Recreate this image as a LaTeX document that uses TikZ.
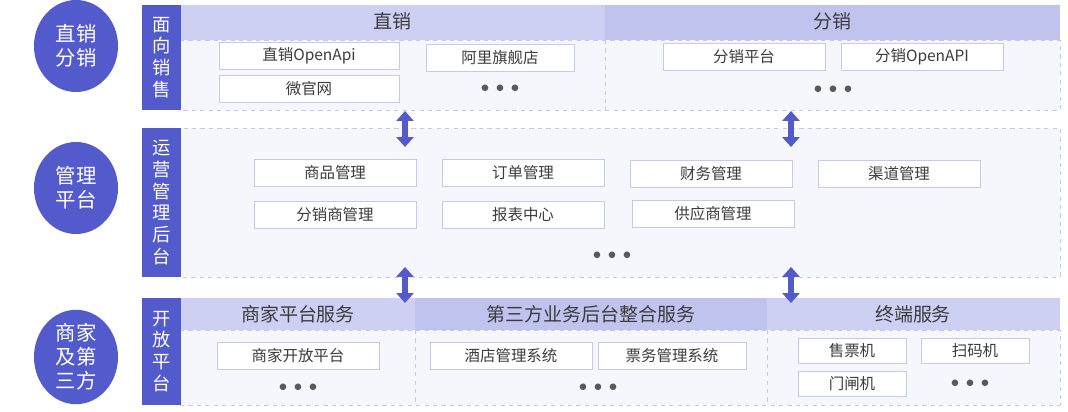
\documentclass[tikz,border=0pt]{standalone}
\usepackage{fontspec}
\newfontfamily\cjk{Noto Sans CJK SC}
\definecolor{deep}{HTML}{535ACB}
\definecolor{band}{HTML}{CDCFF3}
\definecolor{pane}{HTML}{F6F7FD}
\definecolor{edge}{HTML}{C6C9EE}
\definecolor{ink}{HTML}{3C3C3C}
\usetikzlibrary{arrows.meta,shapes.geometric}
\tikzset{
  layer/.style={ellipse, fill=deep, text=white, font=\cjk\fontsize{14.5}{17}\selectfont, align=center, minimum width=2.1cm, minimum height=2.3cm, inner sep=0pt},
  sidebar/.style={fill=deep, text=white, font=\cjk\fontsize{13}{15.5}\selectfont, align=center},
  itembox/.style={draw=edge, fill=white, text=ink, font=\cjk\fontsize{11}{12}\selectfont, minimum height=0.68cm, inner sep=0pt},
  headtext/.style={text=ink, font=\cjk\fontsize{13.5}{15}\selectfont},
  dots/.style={text=ink!85, font=\fontsize{13}{13}\selectfont},
  link/.style={deep, line width=4pt, {Triangle[length=7pt,width=12pt]}-{Triangle[length=7pt,width=12pt]}},
}
\begin{document}
\begin{tikzpicture}[x=0.025cm, y=-0.025cm]
  \useasboundingbox (0,0) rectangle (1068,412);
  % Layers
  \node[layer] (L1) at (76,46) {直销\\分销};
  \node[layer] (L2) at (76,188) {管理\\平台};
  \node[layer] (L3) at (76,357) {商家\\及第\\三方};

  % Row 1 panels
  \fill[pane] (180,5) rectangle (1060,110);
  \fill[band] (180,5) rectangle (605,40);
  \fill[band!90!deep] (605,5) rectangle (1060,40);
  \draw[edge, dashed] (180,40) -- (1060,40) -- (1060,110) -- (180,110);
  \draw[edge, dashed] (605,40) -- (605,110);
  \node[sidebar, minimum width=0.95cm, minimum height=2.63cm] (S1) at (161.5,57.5) {面\\向\\销\\售};
  \node[headtext] (H11) at (392,21) {直销};
  \node[headtext] (H12) at (832,21) {分销};
  \node[itembox, minimum width=4.5cm] (B11) at (309,56) {直销OpenApi};
  \node[itembox, minimum width=4.5cm] (B12) at (309,89) {微官网};
  \node[itembox, minimum width=3.7cm] (B13) at (500,58) {阿里旗舰店};
  \node[dots] (D11) at (500,89) {$\bullet\,\bullet\,\bullet$};
  \node[itembox, minimum width=4.05cm] (B14) at (744,57) {分销平台};
  \node[itembox, minimum width=4.05cm] (B15) at (922,57) {分销OpenAPI};
  \node[dots] (D12) at (833,90) {$\bullet\,\bullet\,\bullet$};

  % Row 2 panel
  \fill[pane] (180,128) rectangle (1060,277);
  \draw[edge, dashed] (180,128) rectangle (1060,277);
  \node[sidebar, minimum width=0.95cm, minimum height=3.73cm] (S2) at (161.5,202.5) {运\\营\\管\\理\\后\\台};
  \node[itembox, minimum width=4.05cm] (B21) at (335,173) {商品管理};
  \node[itembox, minimum width=4.05cm] (B22) at (523,173) {订单管理};
  \node[itembox, minimum width=4.05cm] (B23) at (711,174) {财务管理};
  \node[itembox, minimum width=4.05cm] (B24) at (899,174) {渠道管理};
  \node[itembox, minimum width=4.05cm] (B25) at (335,215) {分销商管理};
  \node[itembox, minimum width=4.05cm] (B26) at (523,215) {报表中心};
  \node[itembox, minimum width=4.05cm] (B27) at (713,214) {供应商管理};
  \node[dots] (D21) at (612,256) {$\bullet\,\bullet\,\bullet$};

  % Row 3 panels
  \fill[pane] (180,298) rectangle (1060,405);
  \fill[band] (180,298) rectangle (415,330);
  \fill[band!90!deep] (415,298) rectangle (767,330);
  \fill[band] (767,298) rectangle (1060,330);
  \draw[edge, dashed] (180,330) -- (1060,330) -- (1060,405) -- (180,405);
  \draw[edge, dashed] (415,330) -- (415,405) (767,330) -- (767,405);
  \node[sidebar, minimum width=0.95cm, minimum height=2.68cm] (S3) at (161.5,351.5) {开\\放\\平\\台};
  \node[headtext] (H31) at (298,314) {商家平台服务};
  \node[headtext] (H32) at (591,314) {第三方业务后台整合服务};
  \node[headtext] (H33) at (913,314) {终端服务};
  \node[itembox, minimum width=4.05cm] (B31) at (298,356) {商家开放平台};
  \node[dots] (D31) at (298,388) {$\bullet\,\bullet\,\bullet$};
  \node[itembox, minimum width=4.05cm] (B32) at (511,356) {酒店管理系统};
  \node[itembox, minimum width=3.7cm] (B33) at (672,356) {票务管理系统};
  \node[dots] (D32) at (598,388) {$\bullet\,\bullet\,\bullet$};
  \node[itembox, minimum width=2.7cm, minimum height=0.63cm] (B34) at (852,351) {售票机};
  \node[itembox, minimum width=2.7cm, minimum height=0.63cm] (B35) at (852,384) {门闸机};
  \node[itembox, minimum width=2.7cm, minimum height=0.63cm] (B36) at (975,351) {扫码机};
  \node[dots] (D33) at (970,384) {$\bullet\,\bullet\,\bullet$};

  % Links between rows
  \coordinate (A1) at (405,111); \coordinate (A2) at (405,147);
  \coordinate (A3) at (791,111); \coordinate (A4) at (791,147);
  \coordinate (A5) at (405,267); \coordinate (A6) at (405,303);
  \coordinate (A7) at (791,267); \coordinate (A8) at (791,303);
  \draw[link] (A1) -- (A2);
  \draw[link] (A3) -- (A4);
  \draw[link] (A5) -- (A6);
  \draw[link] (A7) -- (A8);
\end{tikzpicture}
\end{document}
